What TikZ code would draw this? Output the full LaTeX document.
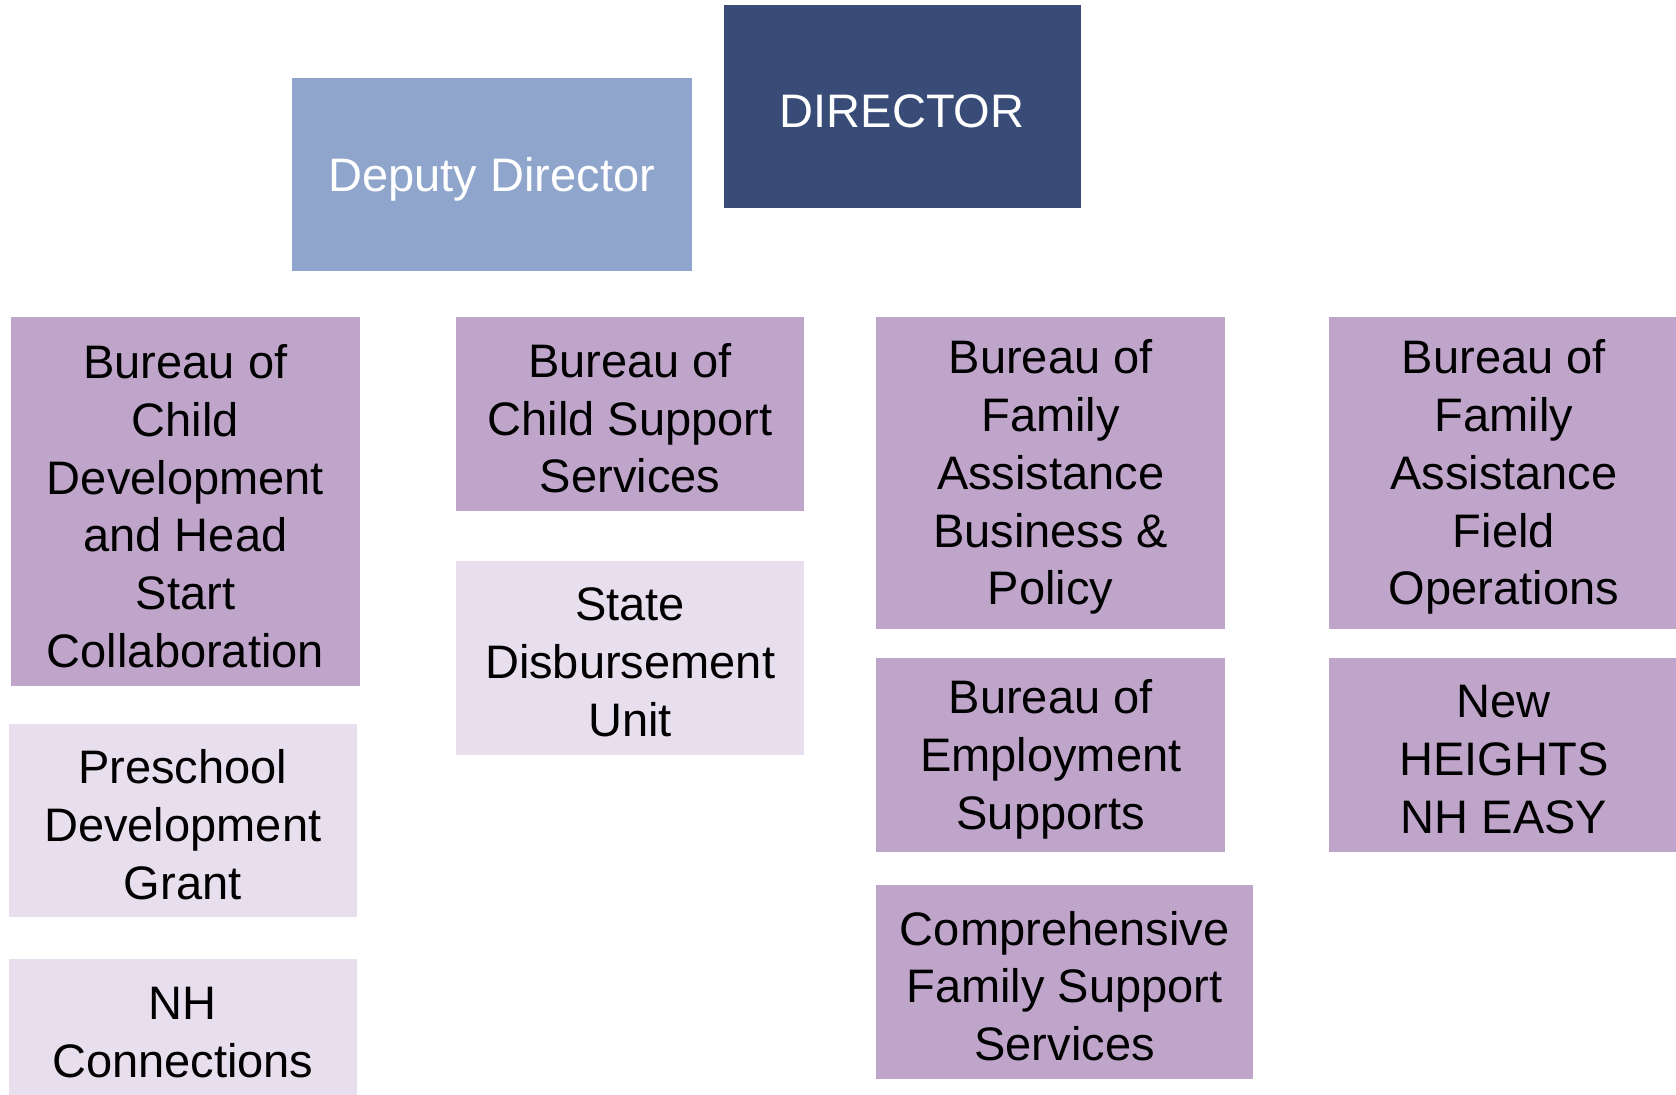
\documentclass[tikz,border=0pt]{standalone}
\usepackage{fontspec}
\setmainfont{Liberation Sans}
\definecolor{dirblue}{HTML}{394C77}
\definecolor{depblue}{HTML}{8FA5CC}
\definecolor{bpurple}{HTML}{C0A5CB}
\definecolor{lpurple}{HTML}{E8DFEE}
\tikzset{
  box/.style={rectangle, draw=none, inner sep=0pt},
  txt/.style={inner sep=0pt, align=center, yshift=-4pt,
    font=\fontsize{44}{54}\selectfont},
  dirbox/.style={box, fill=dirblue},
  depbox/.style={box, fill=depblue},
  bureau/.style={box, fill=bpurple},
  unitbox/.style={box, fill=lpurple},
  wtxt/.style={txt, text=white},
  btxt/.style={txt, text=black}
}
\begin{document}
\begin{tikzpicture}[x=1pt,y=-1pt]
\useasboundingbox (0,0) rectangle (1568,1024);
\node[dirbox, minimum width=334pt, minimum height=190pt] (dir) at (844,100) {};
\node[wtxt] (dirt) at (dir.center) {DIRECTOR};
\node[depbox, minimum width=374pt, minimum height=181pt] (dep) at (460,163.5) {};
\node[wtxt] (dept) at (dep.center) {Deputy Director};
\node[bureau, minimum width=327pt, minimum height=345pt] (bcd) at (173.5,469.5) {};
\node[btxt] (bcdt) at (bcd.center) {Bureau of\\Child\\Development\\and Head\\Start\\Collaboration};
\node[unitbox, minimum width=326pt, minimum height=181pt] (pdg) at (171,767.5) {};
\node[btxt] (pdgt) at (pdg.center) {Preschool\\Development\\Grant};
\node[unitbox, minimum width=326pt, minimum height=130pt] (nhc) at (171,962) {};
\node[btxt] (nhct) at (nhc.center) {NH\\Connections};
\node[bureau, minimum width=325pt, minimum height=181pt] (bcss) at (589.5,387.5) {};
\node[btxt] (bcsst) at (bcss.center) {Bureau of\\Child Support\\Services};
\node[unitbox, minimum width=325pt, minimum height=181pt] (sdu) at (589.5,615.5) {};
\node[btxt] (sdut) at (sdu.center) {State\\Disbursement\\Unit};
\node[bureau, minimum width=326pt, minimum height=291pt] (bfabp) at (983,442.5) {};
\node[btxt] (bfabpt) at (bfabp.center) {Bureau of\\Family\\Assistance\\Business \&\\Policy};
\node[bureau, minimum width=326pt, minimum height=181pt] (bes) at (983,706.5) {};
\node[btxt] (best) at (bes.center) {Bureau of\\Employment\\Supports};
\node[bureau, minimum width=352pt, minimum height=181pt] (cfss) at (996,918.5) {};
\node[btxt] (cfsst) at (cfss.center) {Comprehensive\\Family Support\\Services};
\node[bureau, minimum width=328pt, minimum height=291pt] (bfafo) at (1407,442.5) {};
\node[btxt] (bfafot) at (bfafo.center) {Bureau of\\Family\\Assistance\\Field\\Operations};
\node[bureau, minimum width=328pt, minimum height=181pt] (nhe) at (1407,706.5) {};
\node[btxt] (nhet) at (nhe.center) {New\\HEIGHTS\\NH EASY};
\end{tikzpicture}
\end{document}
